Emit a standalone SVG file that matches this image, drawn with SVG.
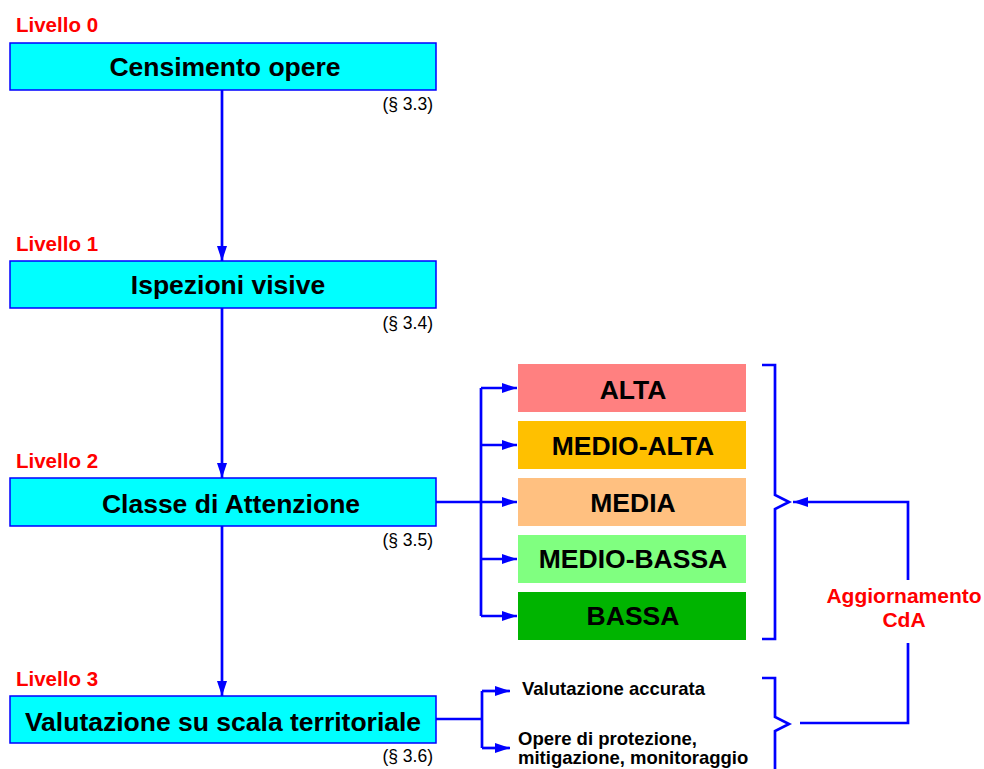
<svg xmlns="http://www.w3.org/2000/svg" width="984" height="769" viewBox="0 0 984 769">
<defs>
<marker id="ah" viewBox="0 0 15 10" refX="15" refY="5" markerWidth="15" markerHeight="10" markerUnits="userSpaceOnUse" orient="auto"><path d="M0,0 L15,5 L0,10 z" fill="#0000FF"/></marker>
<style>
.box{fill:#00FFFF;stroke:#0000FF;stroke-width:1.5}
.main{font-family:"Liberation Sans",Arial,sans-serif;font-weight:bold;font-size:26.5px;fill:#000;text-anchor:middle}
.lvl{font-family:"Liberation Sans",Arial,sans-serif;font-weight:bold;font-size:20.5px;fill:#FF0000}
.ref{font-family:"Liberation Sans",Arial,sans-serif;font-size:17.5px;fill:#000;text-anchor:end}
.cls{font-family:"Liberation Sans",Arial,sans-serif;font-weight:bold;font-size:26.5px;fill:#000;text-anchor:middle}
.sm{font-family:"Liberation Sans",Arial,sans-serif;font-weight:bold;font-size:18.5px;fill:#000}
.red{font-family:"Liberation Sans",Arial,sans-serif;font-weight:bold;font-size:21px;fill:#FF0000;text-anchor:middle}
.ln{fill:none;stroke:#0000FF;stroke-width:2.7}
</style>
</defs>
<rect width="984" height="769" fill="#fff"/>
<g id="n0">
<text class="lvl" x="16" y="32">Livello 0</text>
<rect class="box" x="10" y="43" width="426" height="47"/>
<text class="main" x="225" y="76">Censimento opere</text>
<text class="ref" x="433" y="110">(§ 3.3)</text>
</g>
<g id="n1">
<text class="lvl" x="16" y="251">Livello 1</text>
<rect class="box" x="10" y="261" width="426" height="47"/>
<text class="main" x="228" y="294">Ispezioni visive</text>
<text class="ref" x="433" y="329">(§ 3.4)</text>
</g>
<g id="n2">
<text class="lvl" x="16" y="468">Livello 2</text>
<rect class="box" x="10" y="478" width="426" height="48"/>
<text class="main" x="231" y="513">Classe di Attenzione</text>
<text class="ref" x="433" y="546">(§ 3.5)</text>
</g>
<g id="n3">
<text class="lvl" x="16" y="686">Livello 3</text>
<rect class="box" x="10" y="696" width="426" height="47"/>
<text class="main" x="223" y="731">Valutazione su scala territoriale</text>
<text class="ref" x="433" y="762">(§ 3.6)</text>
</g>
<g id="alta"><rect x="518" y="364" width="228" height="48" fill="#FF8080"/><text class="cls" x="633" y="399">ALTA</text></g>
<g id="medioalta"><rect x="518" y="421" width="228" height="48" fill="#FFC000"/><text class="cls" x="633" y="455">MEDIO-ALTA</text></g>
<g id="media"><rect x="518" y="478" width="228" height="48" fill="#FFC080"/><text class="cls" x="633" y="512">MEDIA</text></g>
<g id="mediobassa"><rect x="518" y="535" width="228" height="48" fill="#80FF80"/><text class="cls" x="633" y="568">MEDIO-BASSA</text></g>
<g id="bassa"><rect x="518" y="592" width="228" height="48" fill="#00B400"/><text class="cls" x="633" y="625">BASSA</text></g>
<g id="va"><text class="sm" x="522" y="695">Valutazione accurata</text></g>
<g id="op"><text class="sm" x="518" y="745">Opere di protezione,</text><text class="sm" x="518" y="764">mitigazione, monitoraggio</text></g>
<g id="agg"><text class="red" x="904" y="603">Aggiornamento</text><text class="red" x="904" y="627">CdA</text></g>
<g id="connectors">
<line class="ln" x1="222" y1="90" x2="222" y2="261" marker-end="url(#ah)"/>
<line class="ln" x1="222" y1="308" x2="222" y2="478" marker-end="url(#ah)"/>
<line class="ln" x1="222" y1="526" x2="222" y2="696" marker-end="url(#ah)"/>
<line class="ln" x1="436" y1="502" x2="517" y2="502" marker-end="url(#ah)"/>
<path class="ln" d="M481,388 V616"/>
<line class="ln" x1="481" y1="388" x2="517" y2="388" marker-end="url(#ah)"/>
<line class="ln" x1="481" y1="445" x2="517" y2="445" marker-end="url(#ah)"/>
<line class="ln" x1="481" y1="559" x2="517" y2="559" marker-end="url(#ah)"/>
<line class="ln" x1="481" y1="616" x2="517" y2="616" marker-end="url(#ah)"/>
<path class="ln" d="M762,365 H775 V495 L789,502 L775,509 V639 H762"/>
<path class="ln" d="M908,580 V502 H793" marker-end="url(#ah)"/>
<path class="ln" d="M908,643 V723 H800"/>
<path class="ln" d="M762,678 H775 V717 L789,724 L775,731 V769"/>
<path class="ln" d="M436,719 H482"/>
<path class="ln" d="M482,691 V748"/>
<line class="ln" x1="482" y1="691" x2="510" y2="691" marker-end="url(#ah)"/>
<line class="ln" x1="482" y1="748" x2="510" y2="748" marker-end="url(#ah)"/>
</g>
</svg>
